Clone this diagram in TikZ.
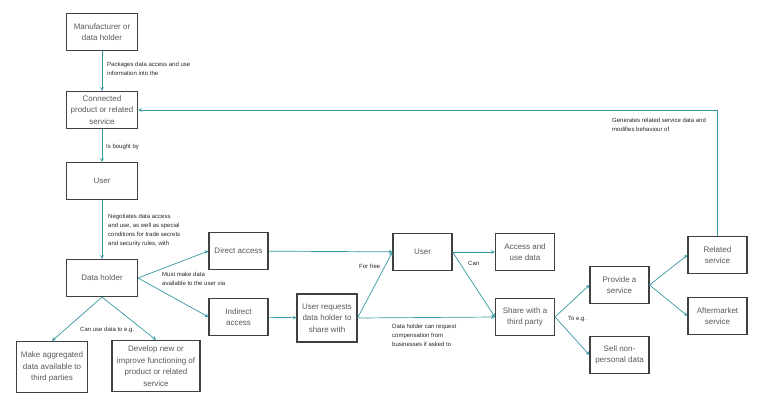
\documentclass[tikz,border=0pt]{standalone}
\usepackage{fontspec}
\setmainfont{Liberation Sans}
\usetikzlibrary{arrows}
\definecolor{tealline}{RGB}{52,152,160}
\definecolor{boxtext}{RGB}{89,89,89}
\tikzset{
  box/.style={draw=black!75, line width=1.1pt, fill=white, text=boxtext, align=center,
    minimum width=59pt, minimum height=37pt, inner sep=1pt, font=\fontsize{8}{11.5}\selectfont},
  wide/.style={box, minimum width=71pt},
  note/.style={align=left, inner sep=0pt, text=black!85, font=\fontsize{6}{9}\selectfont},
  flow/.style={->, >=stealth, draw=tealline, line width=0.7pt}
}

\begin{document}
\begin{tikzpicture}[x=1pt,y=-1pt]
		\useasboundingbox (0,0) rectangle (758,405);
		%left column
		\node [wide] (manu) at (102,32) {Manufacturer or\\data holder};
		\node [wide] (conn) at (102,110) {Connected\\product or related\\service};
		\node [wide] (user) at (102,181) {User};
		\node [wide] (dh) at (102,278) {Data holder};
		\node [wide,minimum height=51pt] (agg) at (52,367) {Make aggregated\\data available to\\third parties};
		\node [box,minimum width=88pt,minimum height=51pt] (dev) at (156,366) {Develop new or\\improve functioning of\\product or related\\service};
		%access routes
		\node [box] (direct) at (238.5,251) {Direct access};
		\node [box] (indirect) at (238.5,317) {Indirect\\access};
		\node [box,minimum width=60pt,minimum height=48pt] (req) at (327,318) {User requests\\data holder to\\share with};
		\node [box] (user2) at (422.5,252) {User};
		\node [box] (access) at (525,252) {Access and\\use data};
		\node [box] (share) at (525,317) {Share with a\\third party};
		%third party uses
		\node [box] (provide) at (619.5,285) {Provide a\\service};
		\node [box] (sell) at (619.5,355) {Sell non-\\personal data};
		\node [box] (related) at (717.5,255) {Related\\service};
		\node [box] (after) at (717.5,316) {Aftermarket\\service};

		\draw [flow] (manu) -- (conn);
		\draw [flow] (conn) -- (user);
		\draw [flow] (user) -- (dh);
		\foreach \a in {direct,indirect}
			\draw [flow] (dh.east) -- (\a.west);
		\foreach \a in {agg,dev}
			\draw [flow] (dh.south) -- (\a.north);
		\draw [flow] (direct) -- (user2);
		\draw [flow] (indirect) -- (req);
		\foreach \a in {user2,share}
			\draw [flow] (req.east) -- (\a.west);
		\foreach \a in {access,share}
			\draw [flow] (user2.east) -- (\a.west);
		\foreach \a in {provide,sell}
			\draw [flow] (share.east) -- (\a.west);
		\foreach \a in {related,after}
			\draw [flow] (provide.east) -- (\a.west);
		\draw [flow] (related.north) |- (conn.east);

		%labels
		\node [note,anchor=north west] (l1) at (107,62) {Packages data access and use\\information into the};
		\node [note,anchor=west] (l2) at (106,147) {Is bought by};
		\node [note,anchor=north west] (l3) at (108,214) {Negotiates data access\\and use, as well as special\\conditions for trade secrets\\and security rules, with};
		\node [note,anchor=north west] (l4) at (162,272) {Must make data\\available to the user via};
		\node [note,anchor=west] (l5) at (80,330) {Can use data to e.g.};
		\node [note,anchor=west] (l6) at (359,266) {For free};
		\node [note,anchor=west] (l7) at (468,263) {Can};
		\node [note,anchor=north west] (l8) at (392,324) {Data holder can request\\compensation from\\businesses if asked to};
		\node [note,anchor=west] (l9) at (568,319) {To e.g.};
		\node [note,anchor=north west] (l10) at (612,118) {Generates related service data and\\modifies behaviour of};
\end{tikzpicture}
\end{document}
